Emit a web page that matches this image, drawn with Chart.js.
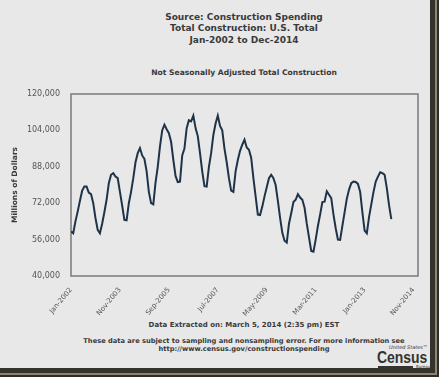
<!DOCTYPE html>
<html>
<head>
<meta charset="utf-8">
<script src="https://cdn.jsdelivr.net/npm/chart.js@4.4.1/dist/chart.umd.min.js"></script>
<style>
  html, body { margin: 0; padding: 0; }
  body { width: 439px; height: 377px; overflow: hidden; font-family: "DejaVu Sans", Verdana, sans-serif; }
  #f1 { position: absolute; left: 0; top: 0; width: 439px; height: 377px; background: #2e2c26; }
  #f2 { position: absolute; left: 0; top: 0; width: 437px; height: 375px; background: #8d8571; }
  #f3 { position: absolute; left: 0; top: 0; width: 435px; height: 373px; background: #35332d; }
  #f4 { position: absolute; left: 0; top: 0; width: 430px; height: 368px; background: #e8e8e8; }
  .txt { position: absolute; left: 44px; width: 400px; text-align: center; color: #3a3a3a; font-weight: bold; }
  #title { top: 12px; font-size: 9px; line-height: 11.3px; }
  #sub { top: 68px; font-size: 7.6px; line-height: 10px; }
  #ext { top: 321px; font-size: 7px; line-height: 9px; }
  #note { top: 337px; font-size: 6.7px; line-height: 8.2px; }
  .lg { position: absolute; color: #333; white-space: nowrap; }
  #lgUs { left: 389px; top: 345px; font-size: 5px; line-height: 5px; font-style: italic; }
  #lgCen { left: 377px; top: 349px; font-size: 17px; line-height: 17px; font-weight: bold; font-family: "Liberation Sans", Arial, sans-serif; transform: scaleX(0.82); transform-origin: left top; }
  #lgBar { left: 378px; top: 366px; width: 35px; height: 2px; background: #333; }
  #lgBu { left: 416px; top: 365px; font-size: 4px; line-height: 4px; }
  canvas { position: absolute; left: 0; top: 0; }
</style>
</head>
<body>
<div id="f1"></div><div id="f2"></div><div id="f3"></div><div id="f4"></div>
<div class="txt" id="title">Source: Construction Spending<br>Total Construction: U.S. Total<br>Jan-2002 to Dec-2014</div>
<div class="txt" id="sub">Not Seasonally Adjusted Total Construction</div>
<div class="txt" id="ext">Data Extracted on: March 5, 2014 (2:35 pm) EST</div>
<div class="txt" id="note">These data are subject to sampling and nonsampling error. For more information see<br>http://www.census.gov/constructionspending</div>
<div class="lg" id="lgUs">United States&#8482;</div>
<div class="lg" id="lgCen">Census</div>
<div class="lg" id="lgBar"></div>
<div class="lg" id="lgBu">Bureau</div>
<canvas id="myChart" width="439" height="377"></canvas>
<script>
// monthly totals, millions of dollars (Jan..Dec)
var y2002 = [59500, 58800, 64000, 68300, 73000, 77400, 79300, 79300, 76700, 76000, 72000, 65500];
var y2003 = [60300, 58800, 63000, 68000, 73500, 80800, 84500, 85200, 83700, 83000, 77000, 71000];
var y2004 = [64700, 64500, 72000, 77000, 83000, 90000, 94000, 96200, 93000, 91500, 86000, 77000];
var y2005 = [72000, 71500, 81000, 88000, 97000, 104000, 106500, 104500, 102800, 99000, 91000, 84000];
var y2006 = [81300, 81500, 93000, 96000, 105000, 108500, 108000, 110500, 105000, 101500, 94000, 86000];
var y2007 = [79500, 79300, 88000, 94000, 102000, 107000, 110500, 106000, 104000, 96000, 90000, 83000];
var y2008 = [77500, 77000, 86000, 91000, 95000, 97700, 99900, 96500, 95500, 92000, 83000, 75000];
var y2009 = [67000, 66800, 70500, 75000, 79000, 83000, 84500, 83000, 80000, 73000, 65500, 59000];
var y2010 = [55500, 54700, 63000, 67600, 72500, 73500, 76000, 74500, 73500, 70000, 63000, 57000];
var y2011 = [51000, 50700, 56000, 62000, 67000, 72500, 72700, 77200, 75700, 74200, 67000, 61000];
var y2012 = [56000, 55900, 62000, 68000, 74000, 78000, 80800, 81500, 81300, 80500, 77000, 68000];
var y2013 = [60000, 58800, 66000, 71500, 77000, 81500, 83700, 85600, 85200, 84500, 78500, 71000];
var y2014 = [65000];

var tickLabels = ['Jan-2002', 'Nov-2003', 'Sep-2005', 'Jul-2007', 'May-2009', 'Mar-2011', 'Jan-2013', 'Nov-2014'];

var allValues = [].concat(y2002, y2003, y2004, y2005, y2006, y2007, y2008, y2009, y2010, y2011, y2012, y2013, y2014);
var points = [];
for (var i = 0; i < allValues.length; i++) {
    points.push({ x: i, y: allValues[i] });
}

// box round the plot area
var plotBox = {
    id: 'plotBox',
    beforeDatasetsDraw: function(chart) {
        var a = chart.chartArea;
        var c = chart.ctx;
        c.save();
        c.strokeStyle = '#7a7a7a';
        c.lineWidth = 1.5;
        c.strokeRect(a.left, a.top, a.right - a.left, a.bottom - a.top);
        c.restore();
    }
};

Chart.defaults.font.family = "'DejaVu Sans', Verdana, sans-serif";

var ctx = document.getElementById('myChart');
var myChart = new Chart(ctx, {
    type: 'line',
    data: {
        datasets: [{
            label: 'Total Construction',
            data: points,
            borderColor: '#1f3348',
            borderWidth: 2,
            pointRadius: 0,
            tension: 0,
            fill: false
        }]
    },
    options: {
        responsive: false,
        animation: false,
        layout: { padding: { left: 0, top: 94, right: 21, bottom: 0 } },
        plugins: {
            legend: { display: false },
            tooltip: { enabled: false }
        },
        scales: {
            x: {
                type: 'linear',
                min: 0,
                max: 156,
                grid: { display: false },
                border: { display: false },
                ticks: {
                    stepSize: 22,
                    includeBounds: false,
                    autoSkip: false,
                    maxRotation: 50,
                    minRotation: 50,
                    padding: 2,
                    color: '#555',
                    font: { size: 7 },
                    callback: function(value) { return tickLabels[value / 22]; }
                },
                afterFit: function(scale) { scale.height = 101; }
            },
            y: {
                min: 40000,
                max: 120000,
                grid: { display: false },
                border: { display: false },
                ticks: {
                    stepSize: 16000,
                    padding: 3,
                    color: '#555',
                    font: { size: 8 },
                    callback: function(value) { return value.toLocaleString('en-US'); }
                },
                title: {
                    display: true,
                    text: 'Millions of Dollars',
                    color: '#3a3a3a',
                    font: { size: 7.5, weight: 'bold' },
                    padding: { top: 11, bottom: 0 }
                },
                afterFit: function(scale) { scale.width = 71; }
            }
        }
    },
    plugins: [plotBox]
});
</script>
</body>
</html>
